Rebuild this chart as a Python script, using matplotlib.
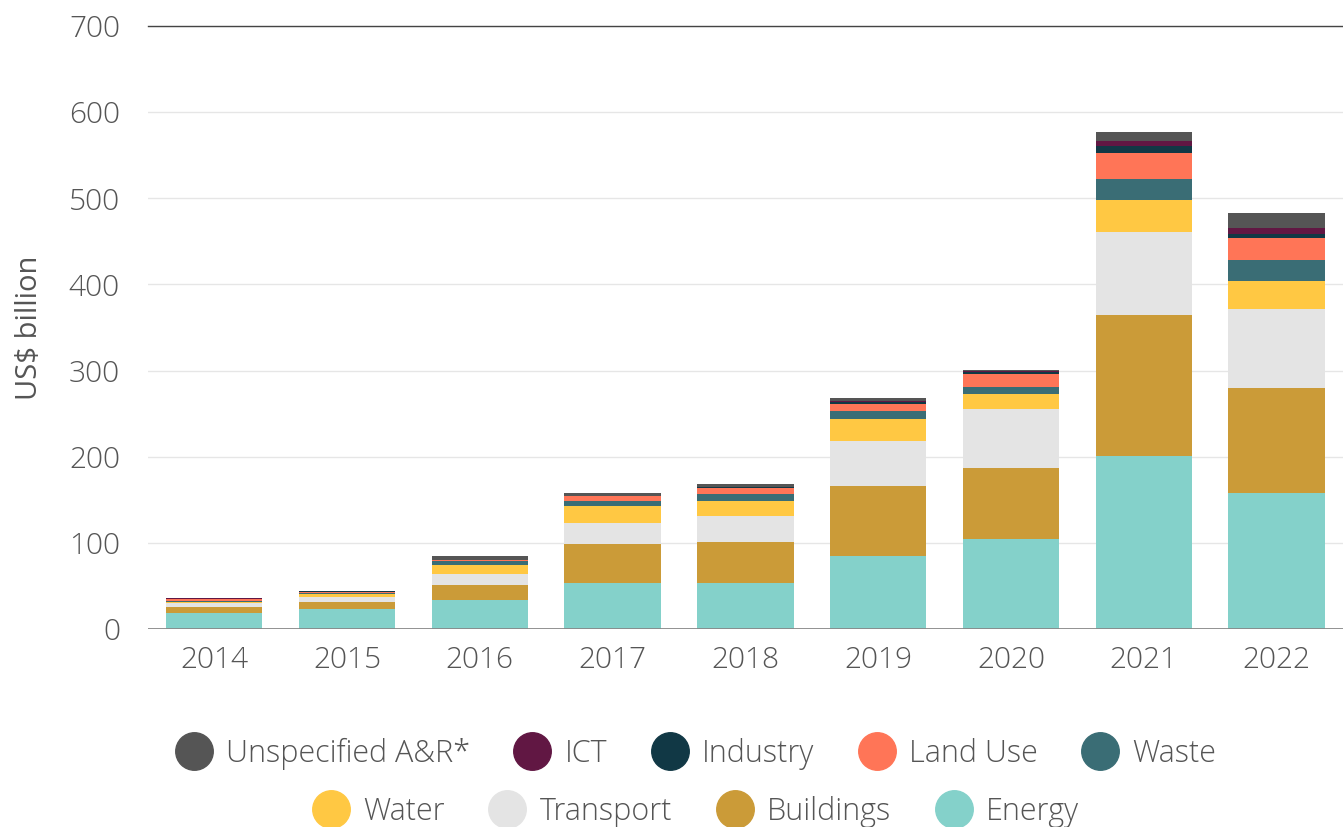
import matplotlib.pyplot as plt
from matplotlib.lines import Line2D

years = ['2014', '2015', '2016', '2017', '2018', '2019', '2020', '2021', '2022']

# values in US$ billion, stacked bottom to top
energy = [18.3, 23.8, 33.7, 53.4, 53.4, 84.8, 104.5, 201.0, 158.0]
buildings = [6.7, 8.1, 17.3, 45.3, 47.6, 81.2, 82.5, 163.7, 122.0]
transport = [5.0, 5.8, 12.8, 24.3, 30.2, 52.4, 68.5, 96.3, 91.6]
water = [1.6, 3.0, 10.5, 19.9, 17.5, 25.5, 17.5, 37.0, 32.4]
waste = [1.1, 1.5, 4.5, 5.8, 8.1, 9.3, 8.0, 24.6, 24.6]
land_use = [2.0, 0.3, 1.2, 5.8, 7.0, 8.1, 15.0, 30.2, 25.4]
industry = [0.5, 1.2, 0.3, 0.2, 1.0, 2.5, 2.0, 8.2, 5.0]
ict = [0.3, 0.1, 0.2, 0.2, 0.5, 1.4, 1.0, 5.8, 6.7]
unspecified = [1.0, 0.5, 4.0, 3.3, 3.1, 3.1, 1.8, 10.2, 17.3]

series = [
    ('Energy', energy, '#84D1CA'),
    ('Buildings', buildings, '#CB9B38'),
    ('Transport', transport, '#E4E4E4'),
    ('Water', water, '#FFC843'),
    ('Waste', waste, '#3A6D75'),
    ('Land Use', land_use, '#FF7557'),
    ('Industry', industry, '#113845'),
    ('ICT', ict, '#611743'),
    ('Unspecified A&R*', unspecified, '#555555'),
]

plt.rcParams['font.family'] = ['Open Sans', 'DejaVu Sans']
plt.rcParams['font.weight'] = 'light'
txt = '#555555'

fig = plt.figure(figsize=(13.43, 8.27), dpi=100)
ax = fig.add_axes([0.110, 0.2394, 0.89, 0.7292])

x = list(range(len(years)))
bottom = [0.0] * len(years)
for name, vals, col in series:
    ax.bar(x, vals, width=0.725, bottom=bottom, color=col, linewidth=0, zorder=3)
    bottom = [b + v for b, v in zip(bottom, vals)]

ax.set_xlim(-0.5, 8.5)
ax.set_ylim(0, 700)
ax.set_yticks(range(0, 701, 100))
ax.set_xticks(x)
ax.set_xticklabels(years)
ax.grid(axis='y', color='#e6e6e6', linewidth=1, zorder=0)
ax.axhline(700, color='#444444', linewidth=1, zorder=4, clip_on=False)
ax.axhline(0, color='#888888', linewidth=2, zorder=4)
for s in ax.spines.values():
    s.set_visible(False)
ax.tick_params(length=0, labelsize=21.5, labelcolor=txt)
ax.tick_params(axis='y', pad=20)
ax.tick_params(axis='x', pad=12)
ax.set_ylabel('US$ billion', fontsize=21, color=txt, labelpad=18)

def handle(col):
    return Line2D([], [], marker='o', linestyle='none', markersize=27,
                  markerfacecolor=col, markeredgecolor=col)

row1 = series[::-1][:5]
row2 = series[::-1][5:]
for row, yy in [(row1, 1 - 754 / 827), (row2, 1 - 812 / 827)]:
    leg = fig.legend([handle(c) for _, _, c in row], [n for n, _, _ in row],
                     loc='center', bbox_to_anchor=(0.518, yy), ncol=len(row),
                     frameon=False, fontsize=22, handletextpad=0.45,
                     columnspacing=1.45, handlelength=1.2)
    for t in leg.get_texts():
        t.set_color(txt)

fig.savefig('out.png', dpi=100)
